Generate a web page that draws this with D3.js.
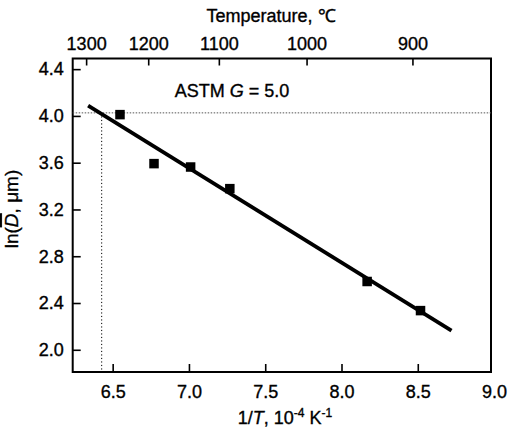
<!DOCTYPE html>
<html>
<head>
<meta charset="utf-8">
<script src="https://d3js.org/d3.v7.min.js"></script>
<style>
  html, body { margin: 0; padding: 0; background: #fff; }
  #chart text {
    font-family: Arial, 'Liberation Sans', Helvetica, sans-serif;
    fill: #000;
    stroke: #000;
    stroke-width: 0.35px;
  }
</style>
</head>
<body>
<div id="chart"></div>
<script>
  // measured points: 1/T (10^-4 K^-1) vs ln(mean grain size, um)
  var invT = [6.548, 6.771, 7.011, 7.268, 8.168, 8.518];
  var lnD = [4.011, 3.592, 3.563, 3.378, 2.584, 2.335];

  // fitted line end points
  var fitX = [6.339, 8.721];
  var fitY = [4.088, 2.164];

  // ASTM G = 5.0 reference level
  var refLnD = 4.026;
  var refInvT = 6.428;

  var xTicks = [6.5, 7.0, 7.5, 8.0, 8.5, 9.0];
  var yTicks = [2.0, 2.4, 2.8, 3.2, 3.6, 4.0, 4.4];
  var tempLabels = [1300, 1200, 1100, 1000, 900];
  var tempPos = [6.326, 6.733, 7.196, 7.771, 8.465];

  function createChart() {
    var W = 508, H = 433;
    var left = 72.7, right = 491, top = 58.5, bottom = 372;

    var svg = d3.select('#chart')
      .append('svg')
      .attr('width', W)
      .attr('height', H);

    svg.append('rect')
      .attr('width', W)
      .attr('height', H)
      .attr('fill', '#fff');

    var x = d3.scaleLinear().domain([6.238, 8.98]).range([left, right]);
    var y = d3.scaleLinear().domain([1.81, 4.491]).range([bottom, top]);

    var fontSize = '18px';

    // bottom axis
    var gx = svg.append('g')
      .attr('transform', 'translate(0,' + bottom + ')')
      .call(d3.axisBottom(x).tickValues(xTicks).tickFormat(d3.format('.1f'))
        .tickSizeInner(-8).tickSizeOuter(0).tickPadding(13));
    gx.selectAll('.tick line')
      .attr('stroke-width', 1.6)
      .attr('opacity', function (d) { return d >= 9 ? 0 : 1; });

    // left axis
    var gy = svg.append('g')
      .attr('transform', 'translate(' + left + ',0)')
      .call(d3.axisLeft(y).tickValues(yTicks).tickFormat(d3.format('.1f'))
        .tickSizeInner(-8).tickSizeOuter(0).tickPadding(9));
    gy.selectAll('.tick line').attr('stroke-width', 1.6);

    // top axis in degrees C
    var gt = svg.append('g')
      .attr('transform', 'translate(0,' + top + ')')
      .call(d3.axisTop(x).tickValues(tempPos)
        .tickFormat(function (d, i) { return tempLabels[i]; })
        .tickSizeInner(-7).tickSizeOuter(0).tickPadding(9));
    gt.selectAll('.tick line').attr('stroke-width', 1.6);

    svg.selectAll('.domain').remove();
    svg.selectAll('.tick text').style('font-size', fontSize);

    // frame
    svg.append('rect')
      .attr('x', left)
      .attr('y', top)
      .attr('width', right - left)
      .attr('height', bottom - top)
      .attr('fill', 'none')
      .attr('stroke', '#000')
      .attr('stroke-width', 2);

    // dotted reference lines
    svg.append('line')
      .attr('x1', left).attr('x2', right)
      .attr('y1', y(refLnD)).attr('y2', y(refLnD))
      .attr('stroke', '#555')
      .attr('stroke-width', 1)
      .attr('stroke-dasharray', '1.5,1.5');

    svg.append('line')
      .attr('x1', x(refInvT)).attr('x2', x(refInvT))
      .attr('y1', y(refLnD)).attr('y2', bottom)
      .attr('stroke', '#000')
      .attr('stroke-width', 1)
      .attr('stroke-dasharray', '1.2,2.3');

    // fitted line
    var line = d3.line()
      .x(function (d) { return x(d[0]); })
      .y(function (d) { return y(d[1]); });

    svg.append('path')
      .datum(d3.zip(fitX, fitY))
      .attr('d', line)
      .attr('fill', 'none')
      .attr('stroke', '#000')
      .attr('stroke-width', 3.8);

    // data squares
    var s = 9.5;
    svg.selectAll('.pt')
      .data(d3.zip(invT, lnD))
      .enter()
      .append('rect')
      .attr('class', 'pt')
      .attr('x', function (d) { return x(d[0]) - s / 2; })
      .attr('y', function (d) { return y(d[1]) - s / 2; })
      .attr('width', s)
      .attr('height', s)
      .attr('fill', '#000');

    // annotation
    var astm = svg.append('text')
      .attr('x', 232)
      .attr('y', 97)
      .attr('text-anchor', 'middle')
      .style('font-size', fontSize);
    astm.append('tspan').text('ASTM ');
    astm.append('tspan').style('font-style', 'italic').text('G');
    astm.append('tspan').text(' = 5.0');

    // axis titles
    svg.append('text')
      .attr('x', 271)
      .attr('y', 22)
      .attr('text-anchor', 'middle')
      .style('font-size', fontSize)
      .text('Temperature, \u2103');

    var xl = svg.append('text')
      .attr('x', 285)
      .attr('y', 424)
      .attr('text-anchor', 'middle')
      .style('font-size', fontSize);
    xl.append('tspan').text('1/');
    xl.append('tspan').style('font-style', 'italic').text('T');
    xl.append('tspan').text(', 10');
    xl.append('tspan').attr('dy', -7).style('font-size', '12px').text('-4');
    xl.append('tspan').attr('dy', 7).text(' K');
    xl.append('tspan').attr('dy', -7).style('font-size', '12px').text('-1');

    var yl = svg.append('text')
      .attr('transform', 'translate(18,209) rotate(-90)')
      .attr('text-anchor', 'middle')
      .style('font-size', '19px');
    yl.append('tspan').text('ln(');
    yl.append('tspan')
      .style('font-style', 'italic')
      .style('text-decoration', 'overline')
      .text('D');
    yl.append('tspan').text(', \u03bcm)');
  }

  createChart();
</script>
</body>
</html>
